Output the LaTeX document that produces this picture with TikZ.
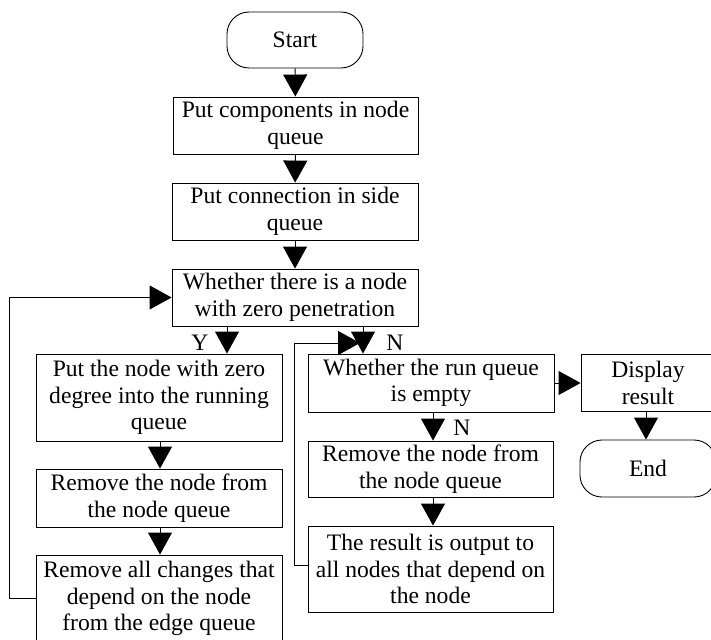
\documentclass[tikz,border=0pt]{standalone}
\usepackage{fontspec}
\setmainfont{Liberation Serif}
\usetikzlibrary{arrows.meta}
\begin{document}
\begin{tikzpicture}[x=1pt,y=-1pt,
  every node/.style={font=\fontsize{23.6}{26.5}\selectfont},
  box/.style={draw, line width=0.9pt, align=center, inner sep=0pt, minimum width=246pt},
  term/.style={box, rounded corners=22pt, minimum width=136pt, minimum height=56pt},
  lbl/.style={inner sep=0pt},
  arr/.style={line width=0.9pt, -{Triangle[length=22pt,width=24pt]}},
  ln/.style={line width=0.9pt}]
\useasboundingbox (0,0) rectangle (711,639);
\clip (0,0) rectangle (711,639);

% main column
\node[term] (start) at (295,40) {Start};
\node[box, minimum width=245pt, minimum height=57pt] (b1) at (295.5,125.5) {Put components in node\\queue};
\node[box, minimum height=57pt] (b2) at (295,211.5) {Put connection in side\\queue};
\node[box, minimum height=57pt] (b3) at (295,297.5) {Whether there is a node\\with zero penetration};

% left column
\node[box, minimum height=87pt] (b4) at (159,397.5) {Put the node with zero\\degree into the running\\queue};
\node[box, minimum height=58pt] (b5) at (159,498) {Remove the node from\\the node queue};
\node[box, minimum height=87pt] (b6) at (159,598.5) {Remove all changes that\\depend on the node\\from the edge queue};

% right column
\node[box, minimum height=58pt] (b7) at (431,383) {Whether the run queue\\is empty};
\node[box, minimum width=245pt, minimum height=56pt] (b8) at (430.5,469) {Remove the node from\\the node queue};
\node[box, minimum width=245pt, minimum height=86pt] (b9) at (430.5,569) {The result is output to\\all nodes that depend on\\the node};
\node[box, minimum width=134pt, minimum height=57pt] (disp) at (648,383) {Display\\result};
\node[term, minimum height=57pt] (end) at (648,468.5) {End};

% branch labels
\node[lbl] (ly) at (200,343) {Y};
\node[lbl] (ln1) at (395,343) {N};
\node[lbl] (ln2) at (462,428) {N};

% branch columns
\coordinate (yx) at (227,0);
\coordinate (nx) at (363,0);
\coordinate (lx) at (9,0);
\coordinate (rx) at (294,0);
\coordinate (join) at (360,343);

% connectors
\draw[arr] (start) -- (b1);
\draw[arr] (b1) -- (b2);
\draw[arr] (b2) -- (b3);
\draw[arr] (b3.south -| yx) -- (b4.north -| yx);
\draw[arr] (b3.south -| nx) -- (b7.north -| nx);
\draw[arr] (b4.south -| 160,0) -- (b5.north -| 160,0);
\draw[arr] (b5.south -| 160,0) -- (b6.north -| 160,0);
\draw[arr] (b7) -- (disp);
\draw[arr] (disp.south -| 646,0) -- (end.north -| 646,0);
\draw[arr] (b7.south -| 433,0) -- (b8.north -| 433,0);
\draw[arr] (b8.south -| 433,0) -- (b9.north -| 433,0);

% loop back to the zero-penetration test
\draw[ln] (b6.west) -- (b6.west -| lx) -- (b3.west -| lx);
\draw[arr] (b3.west -| lx) -- (b3.west);

% loop back to the run-queue test
\draw[ln] ([yshift=4pt]b9.west) -- ([yshift=4pt]b9.west -| rx) -- (join -| rx);
\draw[arr] (join -| rx) -- (join);
\end{tikzpicture}
\end{document}
